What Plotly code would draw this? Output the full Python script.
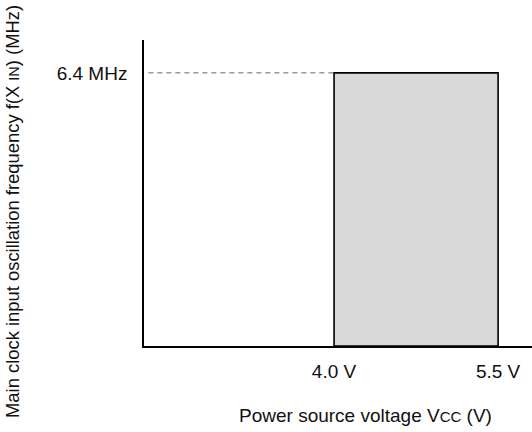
import plotly.graph_objects as go

# Data
v_min = 4.0          # V
v_max = 5.5          # V
f_max = 6.4          # MHz
x_ticks = [4.0, 5.5]
x_ticktext = ["4.0 V", "5.5 V"]
y_ticks = [6.4]
y_ticktext = ["6.4 MHz"]

x_range = [2.262, 5.81]
y_range = [0, 7.17]

fig = go.Figure()

# dashed guide line
fig.add_trace(go.Scatter(
    x=[x_range[0] + 0.04, v_min], y=[f_max, f_max], mode="lines",
    line=dict(color="#666666", width=1, dash="5px,4px"),
    hoverinfo="skip", showlegend=False))

# operating region
fig.add_trace(go.Scatter(
    x=[v_min, v_min, v_max, v_max, v_min], y=[0, f_max, f_max, 0, 0],
    mode="lines", fill="toself", fillcolor="#d9d9d9",
    line=dict(color="black", width=1.6),
    hoverinfo="skip", showlegend=False, cliponaxis=False))

font = dict(family="Liberation Sans, Arial, sans-serif", size=19, color="#111111")
yfont = dict(family="Liberation Sans, Arial, sans-serif", size=18.4, color="#111111")

fig.update_layout(
    width=532, height=432,
    margin=dict(l=144, r=0, t=40, b=86),
    paper_bgcolor="white", plot_bgcolor="white",
    font=font,
    xaxis=dict(range=x_range, showgrid=False, zeroline=False, automargin=False,
               showline=True, linecolor="black", linewidth=1.6,
               tickvals=x_ticks, ticktext=x_ticktext, ticks="",
               ticklabelstandoff=7, tickfont=font),
    yaxis=dict(range=y_range, showgrid=False, zeroline=False, automargin=False,
               showline=True, linecolor="black", linewidth=1.6,
               tickvals=y_ticks, ticktext=y_ticktext, ticks="",
               ticklabelstandoff=11, tickfont=font),
    annotations=[
        dict(text='Power source voltage V<span style="font-size:15px">CC</span> (V)',
             xref="paper", yref="paper", x=(365 - 144) / 388, y=-(415 - 346) / 306,
             xanchor="center", yanchor="middle", showarrow=False, font=font),
        dict(text='Main clock input oscillation frequency f(X <span style="font-size:14.5px">IN</span>) (MHz)',
             xref="paper", yref="paper", x=-(144 - 12) / 388, y=(346 - 212) / 306,
             xanchor="center", yanchor="middle", textangle=-90, showarrow=False, font=yfont),
    ],
)

fig.write_html("out.html", config={"displayModeBar": False},
               post_script="document.body.style.margin='0';")
